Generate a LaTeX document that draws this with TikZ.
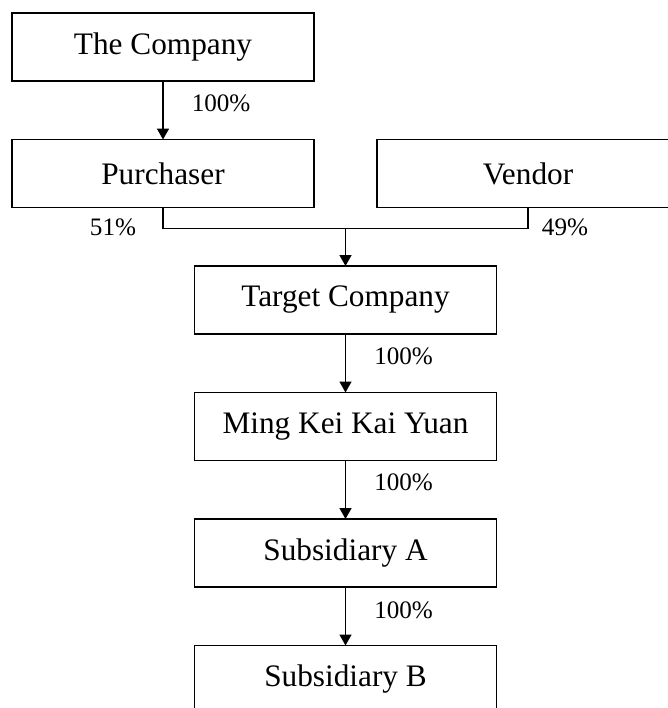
\documentclass[tikz,border=0pt]{standalone}
\usepackage{fontspec}
\setmainfont{Liberation Serif}
\usetikzlibrary{arrows.meta, positioning, calc}

\begin{document}
\begin{tikzpicture}[node distance=1.17cm, line width=0.9pt, >={Triangle[length=0.22cm,width=0.24cm]},
  box/.style={rectangle, draw, outer sep=0pt, minimum width=6.04cm, minimum height=1.36cm, font=\fontsize{17.8}{20}\selectfont},
  pct/.style={inner sep=0pt, font=\fontsize{14.3}{16}\selectfont}]
  \useasboundingbox (0,0) rectangle (13.36,-14.16);
  \clip (0,0) rectangle (13.36,-14.16);

  % Nodes
  \node (company) [box] at (3.26,-0.94) {The Company};
  \node (purchaser) [box, below=of company] {Purchaser};
  \node (vendor) [box, right=1.26cm of purchaser] {Vendor};
  \coordinate (mid) at ($(purchaser.south)!0.5!(vendor.south)$);
  \coordinate (join) at ($(mid)+(0,-0.42)$);
  \node (target) [box, below=of mid] {Target Company};
  \node (ming) [box, below=of target] {Ming Kei Kai Yuan};
  \node (suba) [box, below=of ming] {Subsidiary A};
  \node (subb) [box, below=of suba] {Subsidiary B};

  % Percentages
  \node (p51) [pct] at ($(purchaser.south)+(-1.0,-0.4)$) {51\%};
  \node (p49) [pct] at ($(vendor.south)+(0.74,-0.4)$) {49\%};

  % Arrows
  \draw[->] (company) -- node[pct, pos=0.38, right=0.56cm] {100\%} (purchaser);
  \draw (purchaser.south) |- (join) -| (vendor.south);
  \draw[->] (join) -- (target);
  \draw[->] (target) -- node[pct, pos=0.38, right=0.56cm] {100\%} (ming);
  \draw[->] (ming) -- node[pct, pos=0.38, right=0.56cm] {100\%} (suba);
  \draw[->] (suba) -- node[pct, pos=0.4, right=0.56cm] {100\%} (subb);
\end{tikzpicture}
\end{document}
